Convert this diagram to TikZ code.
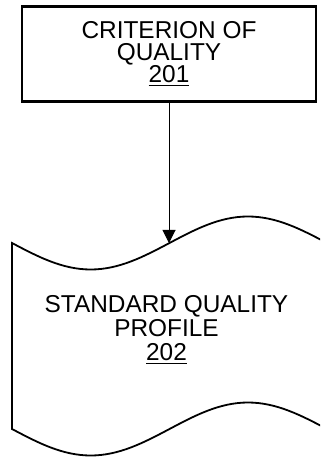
\documentclass[tikz,border=0pt]{standalone}
\usepackage{fontspec}
\setmainfont{Liberation Sans}
\usepackage{tikz}
\usetikzlibrary{arrows.meta, positioning}
\definecolor{mydark}{RGB}{0,0,0}
\tikzset{
  critblock/.style={rectangle, draw=mydark, line width=1.25pt,
    minimum width=147pt, minimum height=47.5pt, align=center,
    font=\fontsize{12.2}{11}\selectfont, inner sep=0pt},
  proftext/.style={align=center, font=\fontsize{12.2}{11.8}\selectfont, inner sep=0pt},
  wave/.style={draw=mydark, line width=0.9pt},
  arrow/.style={-{Triangle[length=6.5pt, width=6.5pt]}, line width=0.5pt, color=mydark}
}
\begin{document}
\begin{tikzpicture}[x=0.5pt, y=-0.5pt]
  \useasboundingbox (0,0) rectangle (320,458);
  \clip (0,0) rectangle (320,458);

  % Place criterion box
  \node[critblock] (crit) at (169,54) {CRITERION OF\\QUALITY\\\underline{201}};

  % Place wavy document
  \draw[wave] (12,243) sin (90.75,269.5) cos (169.5,243) sin (248,216.5) cos (327,243)
    -- (327,429) sin (248,402.5) cos (169.5,429) sin (90.75,455.5) cos (12,429) -- cycle;
  \coordinate (tip) at (169,243);
  \node[proftext] (prof) at (166.5,330) {STANDARD QUALITY\\PROFILE\\\underline{202}};

  % Draw connector
  \draw[arrow] (crit.south) -- (tip);
\end{tikzpicture}
\end{document}
